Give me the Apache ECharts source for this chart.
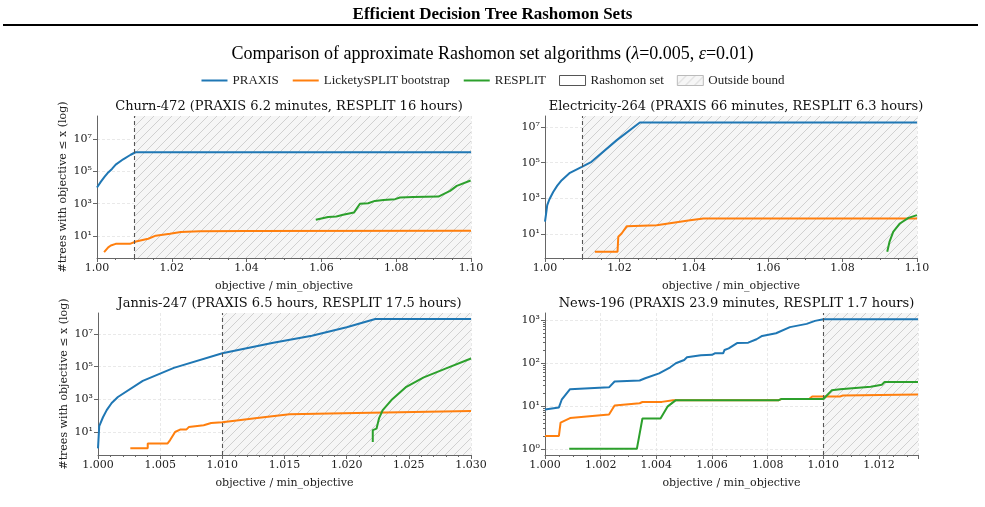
<!DOCTYPE html>
<html>
<head>
<meta charset="utf-8">
<script src="https://cdn.jsdelivr.net/npm/echarts@6/dist/echarts.min.js"></script>
<style>
  html, body { margin: 0; padding: 0; background: #fff; }
  #chart { width: 985px; height: 507px; }
</style>
</head>
<body>
<div id="chart"></div>
<script>
// curves: [objective / min_objective, #trees]
var churn_praxis = [[1.000, 1.0e4], [1.001, 2.2e4], [1.002, 4.5e4], [1.003, 8.5e4], [1.004, 1.4e5], [1.005, 2.6e5], [1.007, 5.5e5], [1.009, 1.05e6], [1.0103, 1.5e6], [1.10, 1.5e6]];
var churn_lickety = [[1.0019, 1], [1.003, 2], [1.0037, 2.6], [1.005, 3.3], [1.0088, 3.3], [1.0104, 4.6], [1.0137, 6.8], [1.0157, 10.5], [1.0195, 14], [1.0224, 17.5], [1.0275, 19.5], [1.04, 20.5], [1.10, 21]];
var churn_resplit = [[1.0585, 100], [1.0618, 148], [1.064, 160], [1.0658, 204], [1.0687, 282], [1.0703, 980], [1.0725, 1070], [1.0743, 1480], [1.0766, 1700], [1.0797, 1900], [1.081, 2400], [1.0846, 2600], [1.0913, 2750], [1.0944, 6200], [1.0962, 12600], [1.0999, 27000]];

var elec_praxis = [[1.000, 50], [1.0003, 140], [1.0006, 420], [1.0012, 900], [1.0022, 2300], [1.0033, 5200], [1.0045, 10500], [1.0067, 27000], [1.0099, 59000], [1.0125, 112000], [1.0193, 1.86e6], [1.0255, 1.8e7], [1.10, 1.8e7]];
var elec_lickety = [[1.0134, 1], [1.0195, 1], [1.0197, 7], [1.0206, 10.7], [1.022, 27.5], [1.030, 31], [1.039, 60], [1.0426, 74], [1.10, 74]];
var elec_resplit = [[1.092, 1], [1.0926, 3.6], [1.0936, 13], [1.0954, 39], [1.0977, 80], [1.1, 115]];

var jannis_praxis = [[1.000, 1], [1.0001, 23], [1.0004, 80], [1.0007, 220], [1.0011, 600], [1.0016, 1400], [1.0036, 13500], [1.0061, 85000], [1.0100, 6.6e5], [1.0141, 2.9e6], [1.0172, 7.9e6], [1.0200, 2.6e7], [1.0223, 8.3e7], [1.030, 8.3e7]];
var jannis_lickety = [[1.0026, 1], [1.0040, 1], [1.0040, 2], [1.0056, 2], [1.0058, 3.2], [1.0062, 10], [1.0066, 14], [1.0071, 14], [1.0073, 20], [1.0085, 26], [1.0091, 36], [1.0100, 40], [1.0128, 73], [1.0154, 123], [1.0208, 148], [1.030, 195]];
var jannis_resplit = [[1.0221, 2.4], [1.0221, 13], [1.0224, 16], [1.0226, 68], [1.0229, 220], [1.0236, 900], [1.0248, 5900], [1.0262, 22000], [1.028, 79000], [1.030, 3.2e5]];

var news_praxis = [[1.000, 8.2], [1.0005, 9.2], [1.0006, 13.9], [1.0009, 24.5], [1.0023, 27], [1.0025, 37], [1.0034, 39], [1.0036, 44], [1.0041, 57], [1.0045, 79], [1.0047, 98], [1.0050, 117], [1.0051, 135], [1.0056, 150], [1.0060, 154], [1.0061, 167], [1.0064, 167], [1.00645, 200], [1.0066, 218], [1.0069, 290], [1.0073, 296], [1.0076, 355], [1.0078, 425], [1.0083, 490], [1.0088, 680], [1.0094, 810], [1.0097, 950], [1.0100, 1040], [1.0134, 1040]];
var news_lickety = [[1.000, 2], [1.0005, 2], [1.00056, 4.1], [1.0009, 5.2], [1.0023, 6.3], [1.0025, 10.2], [1.0034, 11.5], [1.0035, 12.3], [1.0042, 12.4], [1.0046, 13.6], [1.0084, 13.6], [1.0085, 14.5], [1.0095, 14.6], [1.0096, 16.6], [1.0106, 16.6], [1.0107, 17.4], [1.0134, 18.5]];
var news_resplit = [[1.00087, 1], [1.0033, 1], [1.0035, 5.1], [1.00415, 5.1], [1.0044, 9.6], [1.0047, 13.6], [1.0084, 13.6], [1.0085, 14.5], [1.0100, 14.5], [1.0103, 23], [1.0106, 24.5], [1.0117, 28], [1.0121, 31], [1.0122, 36], [1.0134, 36]];

var panel_titles = [
  'Churn-472 (PRAXIS 6.2 minutes, RESPLIT 16 hours)',
  'Electricity-264 (PRAXIS 66 minutes, RESPLIT 6.3 hours)',
  'Jannis-247 (PRAXIS 6.5 hours, RESPLIT 17.5 hours)',
  'News-196 (PRAXIS 23.9 minutes, RESPLIT 1.7 hours)'
];
var panel_series = [
  [churn_praxis, churn_lickety, churn_resplit],
  [elec_praxis, elec_lickety, elec_resplit],
  [jannis_praxis, jannis_lickety, jannis_resplit],
  [news_praxis, news_lickety, news_resplit]
];
var series_names = ['PRAXIS', 'LicketySPLIT bootstrap', 'RESPLIT'];
var series_colors = ['#1f77b4', '#ff7f0e', '#2ca02c'];
var x_ranges = [[1.00, 1.10, 0.02], [1.00, 1.10, 0.02], [1.000, 1.030, 0.005], [1.000, 1.0134, 0.002]];
var x_decimals = [2, 2, 3, 3];
var y_ranges = [[0.44, 2.6e8], [0.45, 4.2e7], [0.39, 1.95e8], [0.72, 1450]];
var y_ticks = [[10, 1e3, 1e5, 1e7], [10, 1e3, 1e5, 1e7], [10, 1e3, 1e5, 1e7], [1, 10, 100, 1000]];
var news_minor = [2, 3, 4, 5, 6, 7, 8, 9, 20, 30, 40, 50, 60, 70, 80, 90, 200, 300, 400, 500, 600, 700, 800, 900];
var epsilon_bound = 1.01;

var grids = [
  {left: 97, top: 116, width: 374, height: 142},
  {left: 545, top: 116, width: 372, height: 142},
  {left: 98, top: 313, width: 373, height: 142},
  {left: 545, top: 313, width: 373, height: 142}
];

// hatch tile for the "outside bound" area
function hatchTile() {
  var c = document.createElement('canvas');
  c.width = 9; c.height = 9;
  var ctx = c.getContext('2d');
  ctx.fillStyle = '#f6f6f6';
  ctx.fillRect(0, 0, 9, 9);
  ctx.strokeStyle = '#c6c6c6';
  ctx.lineWidth = 0.8;
  ctx.beginPath();
  ctx.moveTo(0, 9); ctx.lineTo(9, 0);
  ctx.moveTo(-1, 1); ctx.lineTo(1, -1);
  ctx.moveTo(8, 10); ctx.lineTo(10, 8);
  ctx.stroke();
  return c;
}
var hatch = {image: hatchTile(), repeat: 'repeat'};

var sup = '⁰¹²³⁴⁵⁶⁷⁸⁹';
function powLabel(v) {
  var e = Math.round(Math.log10(v));
  return '10' + String(e).split('').map(function (d) { return sup[+d]; }).join('');
}

var serif = 'DejaVu Serif';
var xAxes = [], yAxes = [], series = [], titles = [];

titles.push({
  text: 'Efficient Decision Tree Rashomon Sets',
  left: 'center', top: 1,
  textStyle: {fontFamily: 'Liberation Serif', fontWeight: 'bold', fontSize: 17, color: '#000'}
});
titles.push({
  text: '{n|Comparison of approximate Rashomon set algorithms (}{i|λ}{n|=0.005, }{i|ε}{n|=0.01)}',
  left: 'center', top: 40,
  textStyle: {
    fontWeight: 'normal',
    rich: {
      n: {fontFamily: 'Liberation Serif', fontWeight: 'normal', fontSize: 18, color: '#000'},
      i: {fontFamily: 'Liberation Serif', fontWeight: 'normal', fontStyle: 'italic', fontSize: 18, color: '#000'}
    }
  }
});

for (var p = 0; p < 4; p++) {
  var g = grids[p];
  titles.push({
    text: panel_titles[p],
    left: g.left + g.width / 2, top: g.top - 21, textAlign: 'center',
    textStyle: {fontFamily: serif, fontWeight: 'normal', fontSize: 13, color: '#111'}
  });
  (function (p) {
    xAxes.push({
      type: 'value', gridIndex: p,
      min: x_ranges[p][0], max: x_ranges[p][1], interval: x_ranges[p][2],
      name: 'objective / min_objective', nameLocation: 'middle', nameGap: 23,
      nameTextStyle: {fontFamily: serif, fontSize: 11, color: '#222'},
      axisLine: {show: true, onZero: false, lineStyle: {color: '#666', width: 1}},
      axisTick: {show: true, length: 4, lineStyle: {color: '#666'}},
      minorTick: {show: true, splitNumber: p == 2 ? 5 : 4, length: 2, lineStyle: {color: '#666'}},
      axisLabel: {
        fontFamily: serif, fontSize: 11, color: '#222', margin: 5,
        showMaxLabel: p != 3,
        formatter: function (v) { return v.toFixed(x_decimals[p]); }
      },
      splitLine: {show: true, lineStyle: {color: '#e3e3e3', type: [3, 2], width: 0.8}}
    });
    yAxes.push({
      type: 'log', logBase: 10, gridIndex: p, position: 'left',
      min: y_ranges[p][0], max: y_ranges[p][1],
      name: (p % 2 == 0) ? '#trees with objective ≤ x (log)' : '',
      nameLocation: 'middle', nameGap: 28,
      nameTextStyle: {fontFamily: serif, fontSize: 11, color: '#222'},
      axisLine: {show: true, lineStyle: {color: '#666', width: 1}},
      axisTick: {show: true, length: 4, customValues: y_ticks[p], lineStyle: {color: '#666'}},
      axisLabel: {
        fontFamily: serif, fontSize: 11, color: '#222', margin: 5,
        customValues: y_ticks[p],
        formatter: powLabel
      },
      splitLine: {show: true, lineStyle: {color: '#e3e3e3', type: [3, 2], width: 0.8}}
    });
  })(p);

  for (var s = 0; s < 3; s++) {
    series.push({
      type: 'line', name: series_names[s],
      xAxisIndex: p, yAxisIndex: p,
      data: panel_series[p][s],
      showSymbol: false, symbol: 'none',
      lineStyle: {color: series_colors[s], width: 2},
      itemStyle: {color: series_colors[s]},
      z: 3 + s
    });
  }
  // outside-bound shading and epsilon line
  series.push({
    type: 'line', name: 'Outside bound', xAxisIndex: p, yAxisIndex: p, data: [],
    z: 1,
    markArea: {
      silent: true,
      itemStyle: {color: hatch, borderWidth: 0},
      data: [[{xAxis: epsilon_bound}, {xAxis: x_ranges[p][1]}]]
    },
    markLine: {
      silent: true, symbol: 'none', label: {show: false},
      lineStyle: {color: '#555', type: [4, 3], width: 1.1},
      data: [{xAxis: epsilon_bound}]
    }
  });
}

// minor log ticks for News panel
yAxes.push({
  type: 'log', logBase: 10, gridIndex: 3, position: 'left',
  min: y_ranges[3][0], max: y_ranges[3][1],
  axisLine: {show: false},
  axisTick: {show: true, length: 2, customValues: news_minor, lineStyle: {color: '#666'}},
  axisLabel: {show: false},
  splitLine: {show: false}
});

series.push({
  type: 'line', name: 'Rashomon set', xAxisIndex: 0, yAxisIndex: 0, data: [],
  itemStyle: {color: '#fff'}
});

var option = {
  backgroundColor: '#fff',
  animation: false,
  title: titles,
  grid: grids,
  xAxis: xAxes,
  yAxis: yAxes,
  legend: {
    top: 69, left: 'center',
    itemWidth: 26, itemHeight: 10, itemGap: 13,
    textStyle: {fontFamily: 'Liberation Serif', fontSize: 13, color: '#222'},
    data: [
      {name: 'PRAXIS', itemStyle: {opacity: 0}, lineStyle: {width: 2}},
      {name: 'LicketySPLIT bootstrap', itemStyle: {opacity: 0}, lineStyle: {width: 2}},
      {name: 'RESPLIT', itemStyle: {opacity: 0}, lineStyle: {width: 2}},
      {name: 'Rashomon set', icon: 'rect', itemStyle: {color: '#fff', borderColor: '#555', borderWidth: 1}},
      {name: 'Outside bound', icon: 'rect', itemStyle: {color: hatch, borderColor: '#bbb', borderWidth: 1}}
    ]
  },
  graphic: [
    {type: 'line', shape: {x1: 3, y1: 25, x2: 978, y2: 25}, style: {stroke: '#000', lineWidth: 2}}
  ],
  series: series
};

var chart = echarts.init(document.getElementById('chart'), null, {renderer: 'canvas'});
chart.setOption(option);
</script>
</body>
</html>
